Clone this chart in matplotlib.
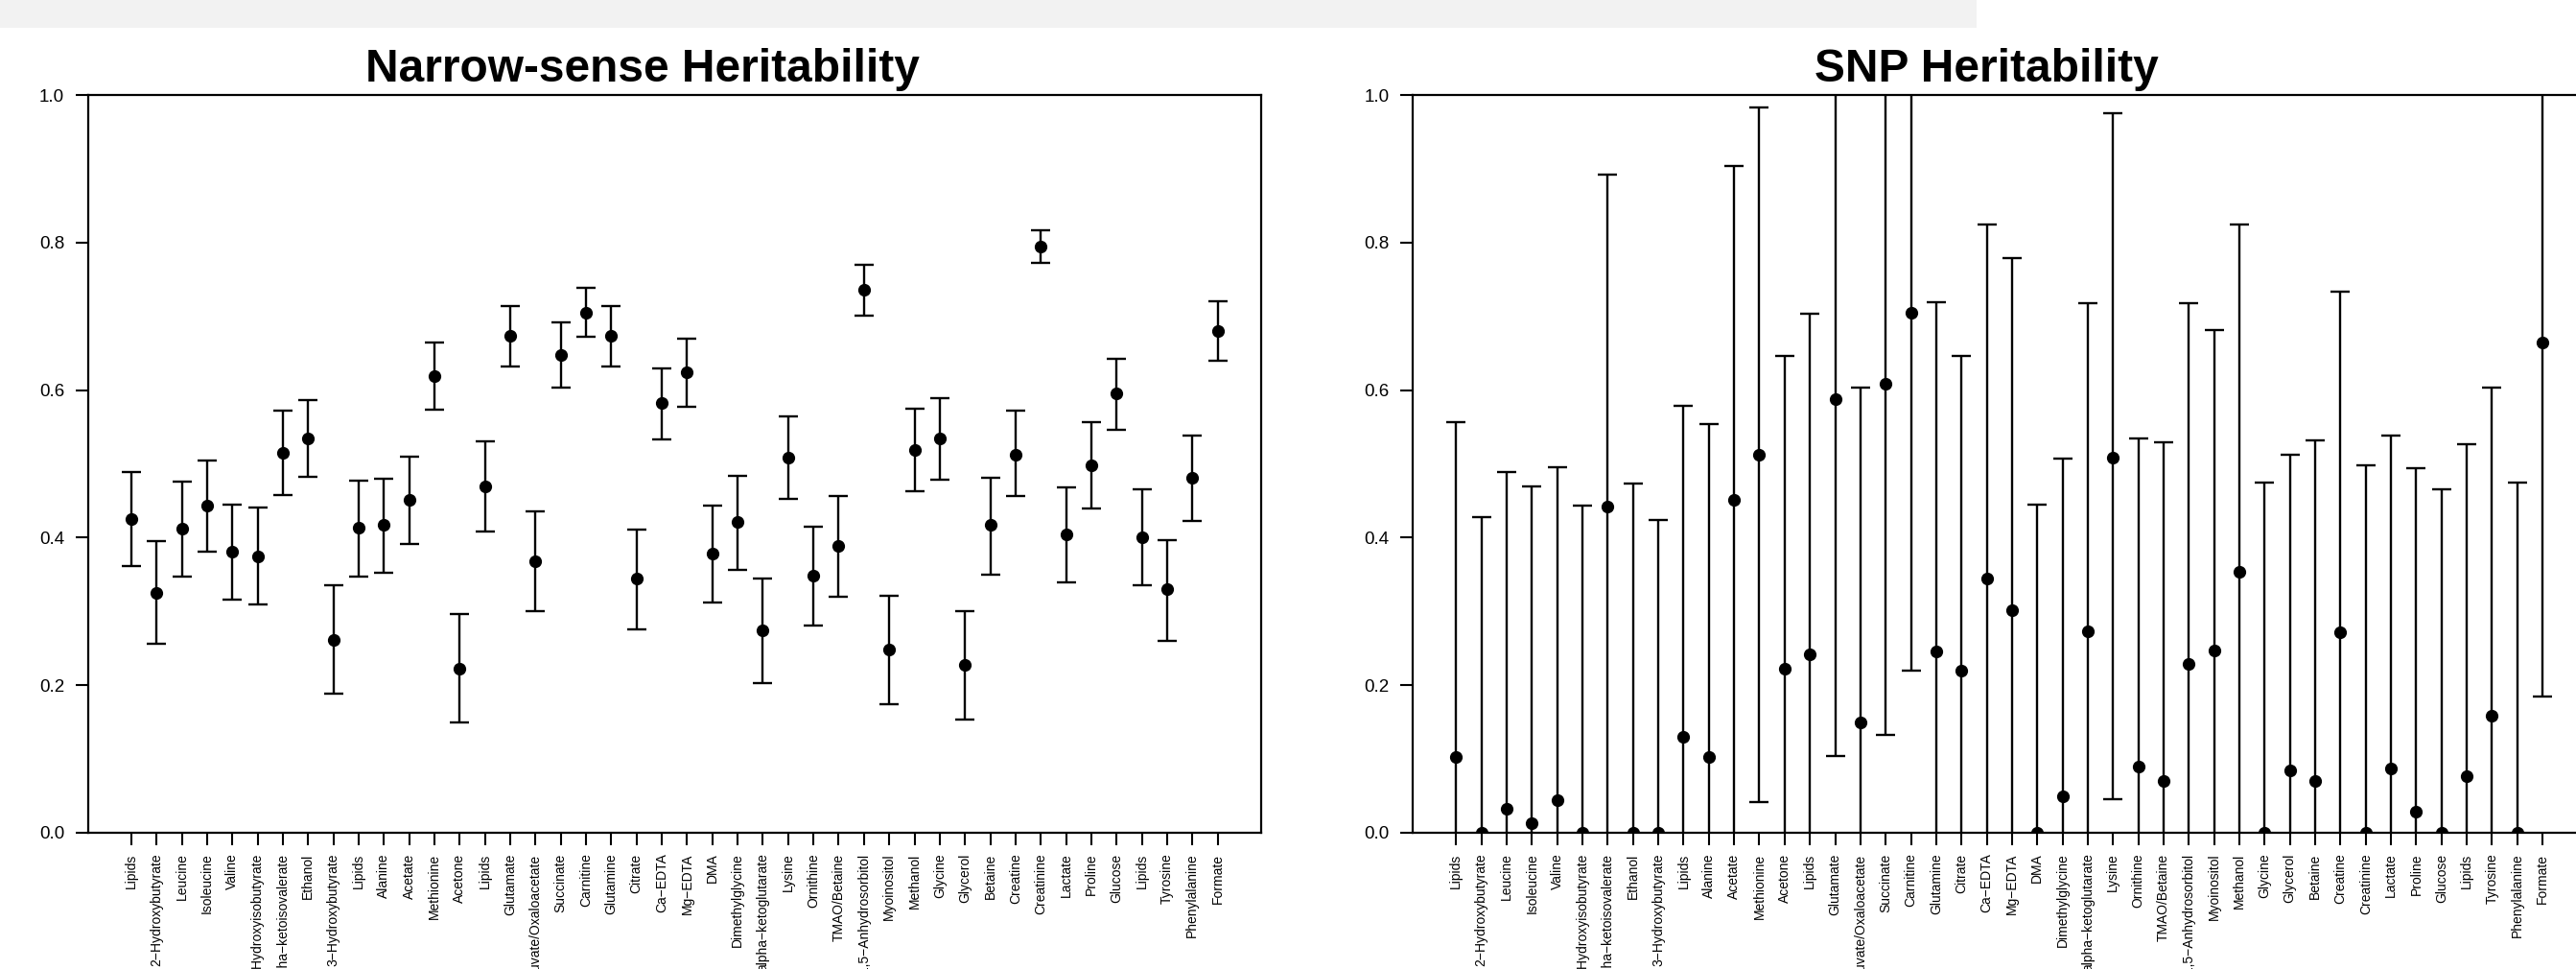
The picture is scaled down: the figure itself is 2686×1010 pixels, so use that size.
import matplotlib
matplotlib.use("Agg")
import matplotlib.pyplot as plt
from matplotlib.patches import Rectangle
import numpy as np

plt.rcParams['font.family'] = ['Liberation Sans', 'DejaVu Sans']

categories = ["Lipids", "2\u2212Hydroxybutyrate", "Leucine", "Isoleucine", "Valine",
              "2\u2212Hydroxyisobutyrate", "alpha\u2212ketoisovalerate", "Ethanol",
              "3\u2212Hydroxybutyrate", "Lipids", "Alanine", "Acetate", "Methionine",
              "Acetone", "Lipids", "Glutamate", "Pyruvate/Oxaloacetate", "Succinate",
              "Carnitine", "Glutamine", "Citrate", "Ca\u2212EDTA", "Mg\u2212EDTA", "DMA",
              "Dimethylglycine", "alpha\u2212ketoglutarate", "Lysine", "Ornithine",
              "TMAO/Betaine", "1,5\u2212Anhydrosorbitol", "Myoinositol", "Methanol",
              "Glycine", "Glycerol", "Betaine", "Creatine", "Creatinine", "Lactate",
              "Proline", "Glucose", "Lipids", "Tyrosine", "Phenylalanine", "Formate"]

nh_val = [0.425, 0.325, 0.412, 0.444, 0.381, 0.375, 0.515, 0.535, 0.262, 0.413,
          0.417, 0.451, 0.619, 0.223, 0.470, 0.673, 0.368, 0.648, 0.705, 0.673,
          0.344, 0.582, 0.624, 0.378, 0.421, 0.275, 0.508, 0.349, 0.389, 0.736,
          0.248, 0.519, 0.534, 0.228, 0.417, 0.513, 0.795, 0.405, 0.498, 0.596,
          0.401, 0.330, 0.481, 0.680]
nh_lo = [0.362, 0.256, 0.347, 0.381, 0.316, 0.309, 0.458, 0.482, 0.188, 0.347,
         0.353, 0.391, 0.574, 0.149, 0.408, 0.632, 0.300, 0.603, 0.672, 0.632,
         0.276, 0.533, 0.577, 0.312, 0.356, 0.203, 0.452, 0.281, 0.320, 0.701,
         0.174, 0.463, 0.478, 0.153, 0.350, 0.456, 0.772, 0.340, 0.440, 0.546,
         0.335, 0.260, 0.423, 0.640]
nh_hi = [0.489, 0.395, 0.476, 0.505, 0.445, 0.441, 0.572, 0.587, 0.335, 0.477,
         0.480, 0.510, 0.665, 0.296, 0.530, 0.714, 0.435, 0.692, 0.738, 0.714,
         0.411, 0.630, 0.670, 0.444, 0.484, 0.345, 0.564, 0.415, 0.457, 0.770,
         0.321, 0.575, 0.589, 0.301, 0.481, 0.572, 0.816, 0.468, 0.556, 0.643,
         0.465, 0.397, 0.538, 0.720]

snp_val = [0.103, 0.0, 0.032, 0.013, 0.044, 0.0, 0.442, 0.0, 0.0, 0.130,
           0.103, 0.451, 0.513, 0.223, 0.242, 0.588, 0.150, 0.609, 0.705, 0.246,
           0.220, 0.344, 0.302, 0.0, 0.050, 0.273, 0.509, 0.090, 0.070, 0.229,
           0.247, 0.354, 0.0, 0.085, 0.070, 0.272, 0.0, 0.087, 0.028, 0.0,
           0.077, 0.158, 0.0, 0.665]
snp_lo = [-0.35, -0.43, -0.42, -0.44, -0.41, -0.44, -0.01, -0.47, -0.42, -0.32,
          -0.35, -0.002, 0.041, -0.20, -0.22, 0.104, -0.30, 0.132, 0.220, -0.23,
          -0.21, -0.14, -0.17, -0.45, -0.41, -0.17, 0.046, -0.36, -0.39, -0.26,
          -0.19, -0.12, -0.47, -0.34, -0.39, -0.19, -0.50, -0.36, -0.44, -0.47,
          -0.37, -0.29, -0.47, 0.185]
snp_hi = [0.557, 0.428, 0.489, 0.470, 0.496, 0.444, 0.892, 0.473, 0.424, 0.579,
          0.554, 0.904, 0.983, 0.646, 0.703, 1.07, 0.603, 1.09, 1.19, 0.719,
          0.646, 0.825, 0.779, 0.445, 0.507, 0.718, 0.975, 0.535, 0.529, 0.718,
          0.681, 0.825, 0.474, 0.512, 0.532, 0.734, 0.498, 0.538, 0.494, 0.465,
          0.527, 0.604, 0.474, 1.15]

titles = ["Narrow-sense Heritability", "SNP Heritability"]
yticks = [0.0, 0.2, 0.4, 0.6, 0.8, 1.0]

W, H = 2686, 1010
fig = plt.figure(figsize=(W / 100, H / 100), dpi=100)
fig.patch.set_facecolor('white')

# light grey banner at the top
fig.patches.append(Rectangle((0, 1 - 29 / H), 2061 / W, 29 / H, transform=fig.transFigure,
                             facecolor='#f2f2f2', edgecolor='none', zorder=0))

ax_w = (1315 - 91.5) / W
ax_b = 1 - 868 / H
ax_h = (868 - 99) / H
lefts = [91.5 / W, 1473 / W]
title_x = [670 / W, 2071 / W]

datasets = [(nh_val, nh_lo, nh_hi), (snp_val, snp_lo, snp_hi)]
x = np.arange(1, len(categories) + 1)

for i, (vals, lo, hi) in enumerate(datasets):
    ax = fig.add_axes([lefts[i], ax_b, ax_w, ax_h])
    v = np.array(vals)
    l = np.array(lo)
    h = np.array(hi)
    ax.errorbar(x, v, yerr=[v - l, h - v], fmt='o', color='black', ms=8.5,
                elinewidth=1.7, capsize=7, capthick=1.7)
    ax.set_xlim(1 - 0.04 * 43, len(categories) + 0.04 * 43)
    ax.set_ylim(0, 1)
    ax.set_yticks(yticks)
    ax.set_yticklabels([f"{t:.1f}" for t in yticks], fontsize=13.5)
    ax.set_xticks(x)
    ax.set_xticklabels(categories, rotation=90, fontsize=10, va='top', ha='center')
    ax.tick_params(axis='both', direction='out', length=9.5, width=1.5, pad=8, color='black')
    ax.tick_params(axis='x', pad=6)
    for sp in ax.spines.values():
        sp.set_linewidth(1.6)
        sp.set_color('black')
    fig.text(title_x[i], 1 - 85 / H, titles[i], ha='center', va='baseline',
             fontsize=34.5, fontweight='bold')

fig.savefig('out.png', dpi=100, facecolor='white')
